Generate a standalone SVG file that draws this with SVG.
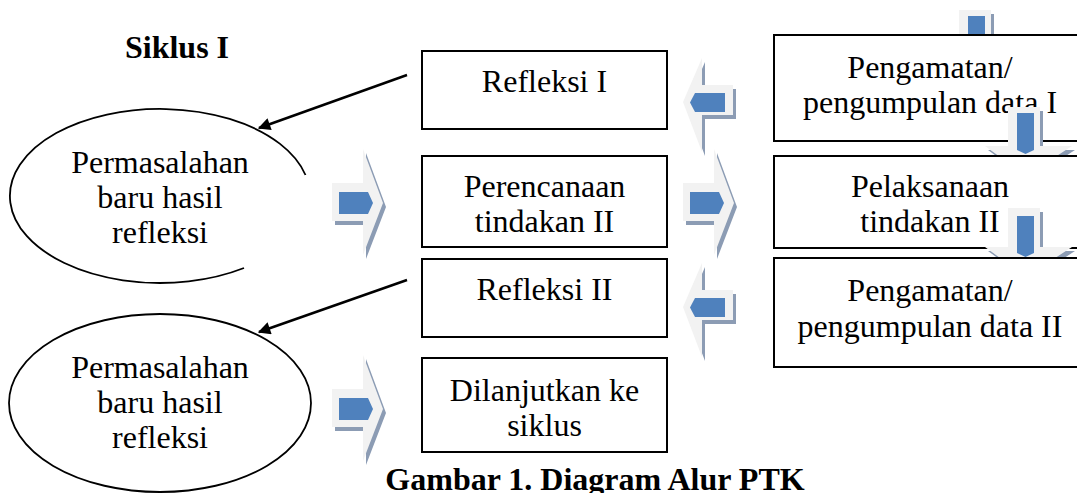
<svg xmlns="http://www.w3.org/2000/svg" xmlns:xlink="http://www.w3.org/1999/xlink" width="1077" height="493" viewBox="0 0 1077 493">
<style>
.t{font-family:"Liberation Serif","Times New Roman",serif;font-size:32px;fill:#000;text-anchor:middle}
.b{font-weight:bold}
.box{fill:#fff;stroke:#000;stroke-width:2}
.ell{fill:none;stroke:#000;stroke-width:1.8}
.con{stroke:#000;stroke-width:2.5;fill:none}
.sh{fill:#8c9cb4}
.lt{fill:#f2f2f2}
.bl{fill:#4f81bd}
</style>
<defs>
<marker id="ah" viewBox="0 0 10 10" refX="9" refY="5" markerWidth="6.5" markerHeight="5" orient="auto" markerUnits="strokeWidth">
<path d="M0,0 L10,5 L0,10 z" fill="#000"/>
</marker>
<polygon id="rOut" points="0,0 31,0 31,-34 51,20 31,72 31,38 0,38"/>
<polygon id="rIn" points="7,9 36,9 41,20 36,31 7,31"/>
<polygon id="lOut" points="683,102 702,58 702,85 733,85 733,115 702,115 702,152"/>
<polygon id="lIn" points="690,102.5 695,93 725,93 725,112 695,112"/>
<polygon id="dOut" points="1008,107 1040,107 1040,146 1072,146 1026,176 985,146 1008,146"/>
<polygon id="dIn" points="1017,113 1034,113 1034,150 1025.5,154 1017,150"/>
</defs>

<text id="siklus" class="t b" x="177" y="58">Siklus I</text>

<g id="ellipse1">
<path class="ell" d="M305.5,175 A150,87 0 1 0 244,268"/>
<text class="t" x="160" y="173">Permasalahan</text>
<text class="t" x="160" y="208">baru hasil</text>
<text class="t" x="160" y="243">refleksi</text>
</g>

<g id="ellipse2">
<ellipse class="ell" cx="160" cy="403" rx="151" ry="89"/>
<text class="t" x="160" y="378">Permasalahan</text>
<text class="t" x="160" y="413">baru hasil</text>
<text class="t" x="160" y="448">refleksi</text>
</g>

<g id="refleksi1">
<rect class="box" x="422" y="51" width="245" height="78"/>
<text class="t" x="544.5" y="92">Refleksi I</text>
</g>
<g id="perencanaan">
<rect class="box" x="422" y="156" width="245" height="91"/>
<text class="t" x="544.5" y="197">Perencanaan</text>
<text class="t" x="544.5" y="232">tindakan II</text>
</g>
<g id="refleksi2">
<rect class="box" x="422" y="259" width="245" height="78"/>
<text class="t" x="544.5" y="300">Refleksi II</text>
</g>
<g id="dilanjutkan">
<rect class="box" x="422" y="358" width="245" height="94"/>
<text class="t" x="544.5" y="401">Dilanjutkan ke</text>
<text class="t" x="544.5" y="436">siklus</text>
</g>

<g id="arrowDown1">
<use xlink:href="#dOut" class="sh" transform="translate(-46,-93)"/>
<use xlink:href="#dOut" class="lt" transform="translate(-49,-97)"/>
<use xlink:href="#dIn" class="bl" transform="translate(-49,-97)"/>
</g>
<g id="pengamatan1">
<rect class="box" x="774" y="35" width="320" height="106"/>
<text class="t" x="930" y="78">Pengamatan/</text>
<text class="t" x="930" y="113">pengumpulan data I</text>
</g>
<g id="arrowDown2">
<use xlink:href="#dOut" class="sh" transform="translate(3,4)"/>
<use xlink:href="#dOut" class="lt"/>
<use xlink:href="#dIn" class="bl"/>
</g>
<g id="pelaksanaan">
<rect class="box" x="774" y="156" width="320" height="92"/>
<text class="t" x="930" y="197">Pelaksanaan</text>
<text class="t" x="930" y="232">tindakan II</text>
</g>
<g id="arrowDown3">
<use xlink:href="#dOut" class="sh" transform="translate(3,105)"/>
<use xlink:href="#dOut" class="lt" transform="translate(0,101)"/>
<use xlink:href="#dIn" class="bl" transform="translate(0,103)"/>
</g>
<g id="pengamatan2">
<rect class="box" x="774" y="258" width="320" height="109"/>
<text class="t" x="930" y="301">Pengamatan/</text>
<text class="t" x="930" y="337">pengumpulan data II</text>
</g>

<g id="connectors">
<line class="con" x1="407" y1="75" x2="259" y2="128" marker-end="url(#ah)"/>
<line class="con" x1="407" y1="280" x2="259" y2="332" marker-end="url(#ah)"/>
<g transform="translate(332,183)">
<use xlink:href="#rOut" class="sh" transform="translate(3,4)"/>
<use xlink:href="#rOut" class="lt"/>
<use xlink:href="#rIn" class="bl"/>
</g>
<g transform="translate(683,183)">
<use xlink:href="#rOut" class="sh" transform="translate(3,4)"/>
<use xlink:href="#rOut" class="lt"/>
<use xlink:href="#rIn" class="bl"/>
</g>
<g transform="translate(332,389)">
<use xlink:href="#rOut" class="sh" transform="translate(3,4)"/>
<use xlink:href="#rOut" class="lt"/>
<use xlink:href="#rIn" class="bl"/>
</g>
<g>
<use xlink:href="#lOut" class="sh" transform="translate(3,4)"/>
<use xlink:href="#lOut" class="lt"/>
<use xlink:href="#lIn" class="bl"/>
</g>
<g transform="translate(0,205)">
<use xlink:href="#lOut" class="sh" transform="translate(3,4)"/>
<use xlink:href="#lOut" class="lt"/>
<use xlink:href="#lIn" class="bl"/>
</g>
</g>

<text id="caption" class="t b" x="595" y="490">Gambar 1. Diagram Alur PTK</text>
</svg>
